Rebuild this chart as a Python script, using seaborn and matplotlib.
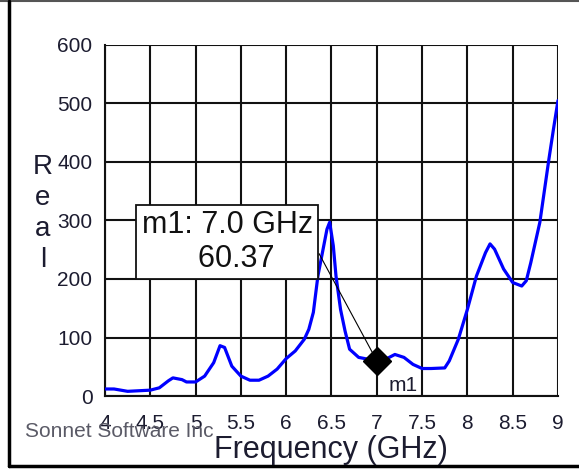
import numpy as np
import pandas as pd
import seaborn as sns
import matplotlib.pyplot as plt
from matplotlib.lines import Line2D

freq = [4.0, 4.1, 4.25, 4.5, 4.6, 4.7, 4.75, 4.85, 4.9, 5.0, 5.1, 5.2, 5.27, 5.32,
        5.4, 5.5, 5.6, 5.7, 5.8, 5.9, 6.0, 6.1, 6.2, 6.25, 6.3, 6.35, 6.4, 6.45,
        6.48, 6.52, 6.55, 6.6, 6.65, 6.7, 6.8, 6.9, 7.0, 7.1, 7.2, 7.3, 7.4, 7.5,
        7.6, 7.75, 7.8, 7.9, 8.0, 8.1, 8.2, 8.25, 8.3, 8.4, 8.5, 8.6, 8.65, 8.7,
        8.8, 8.9, 8.95, 9.0]
real = [12, 12, 8, 10, 14, 26, 31, 28, 24, 24, 34, 57, 86, 83,
        51, 34, 27, 27, 34, 46, 64, 77, 97, 114, 143, 205, 245, 285,
        297, 257, 205, 148, 111, 80, 66, 63, 60.37, 63, 71, 66, 54, 47,
        47, 48, 60, 97, 148, 205, 245, 260, 251, 217, 194, 188, 197, 228,
        297, 405, 456, 505]

x_ticks = [4, 4.5, 5, 5.5, 6, 6.5, 7, 7.5, 8, 8.5, 9]
x_tick_labels = ["4", "4.5", "5", "5.5", "6", "6.5", "7", "7.5", "8", "8.5", "9"]
y_ticks = [0, 100, 200, 300, 400, 500, 600]

marker_f = 7.0
marker_v = 60.37

df = pd.DataFrame({"Frequency": freq, "Real": real})

sns.set_style("white")
plt.rcParams["font.family"] = ["Liberation Sans", "DejaVu Sans"]

text_col = "#1c1c30"

fig = plt.figure(figsize=(5.79, 4.72), dpi=100)
ax = fig.add_axes([0.1813, 0.161, 0.7824, 0.7437])

sns.lineplot(data=df, x="Frequency", y="Real", ax=ax, color="#0000ff",
             linewidth=2.3, zorder=3)

ax.set_xlim(4, 9)
ax.set_ylim(0, 600)
ax.set_xticks(x_ticks)
ax.set_xticklabels(x_tick_labels)
ax.set_yticks(y_ticks)
ax.grid(True, color="#111111", linewidth=1.5)
for s in ax.spines.values():
    s.set_visible(False)
for side in ["left", "bottom"]:
    ax.spines[side].set_visible(True)
    ax.spines[side].set_color("#111111")
    ax.spines[side].set_linewidth(1.5)
ax.tick_params(axis="both", direction="out", length=4, width=1.5, color="#111111",
               labelsize=15, labelcolor=text_col)
ax.tick_params(axis="x", pad=9)
ax.tick_params(axis="y", pad=5)
ax.set_xlabel("")
ax.set_ylabel("")

# marker m1
ax.plot([marker_f], [marker_v], marker="D", color="black", markersize=14,
        zorder=5, clip_on=False)
ax.text(marker_f + 0.13, 1, "m1", fontsize=15, color=text_col, va="bottom",
        ha="left", zorder=6)

# annotation box
ax.annotate("m1: 7.0 GHz\n  60.37", xy=(marker_f, marker_v), xytext=(5.35, 263),
            fontsize=22, color="#111111", ha="center", va="center",
            linespacing=1.15,
            bbox=dict(boxstyle="square,pad=0.18", fc="white", ec="#111111", lw=1.3),
            arrowprops=dict(arrowstyle="-", color="black", lw=0.8,
                            shrinkA=0, shrinkB=0, relpos=(1.0, 0.5)),
            zorder=7)

fig.text(0.074, 0.548, "R\ne\na\nl", fontsize=20, color=text_col, ha="center",
         va="center", linespacing=1.25)
fig.text(0.572, 0.047, "Frequency (GHz)", fontsize=22, color=text_col,
         ha="center", va="center")
fig.text(0.043, 0.085, "Sonnet Software Inc", fontsize=15, color="#5a5a66",
         ha="left", va="center")

# window frame
fig.add_artist(Line2D([0.0, 1.0], [0.997, 0.997], transform=fig.transFigure,
                      color="#555555", linewidth=1.5))
fig.add_artist(Line2D([0.015, 0.015], [0.012, 0.997], transform=fig.transFigure,
                      color="black", linewidth=2.5))
fig.add_artist(Line2D([0.015, 1.0], [0.012, 0.012], transform=fig.transFigure,
                      color="black", linewidth=2.5))

fig.savefig("out.png", dpi=100)
